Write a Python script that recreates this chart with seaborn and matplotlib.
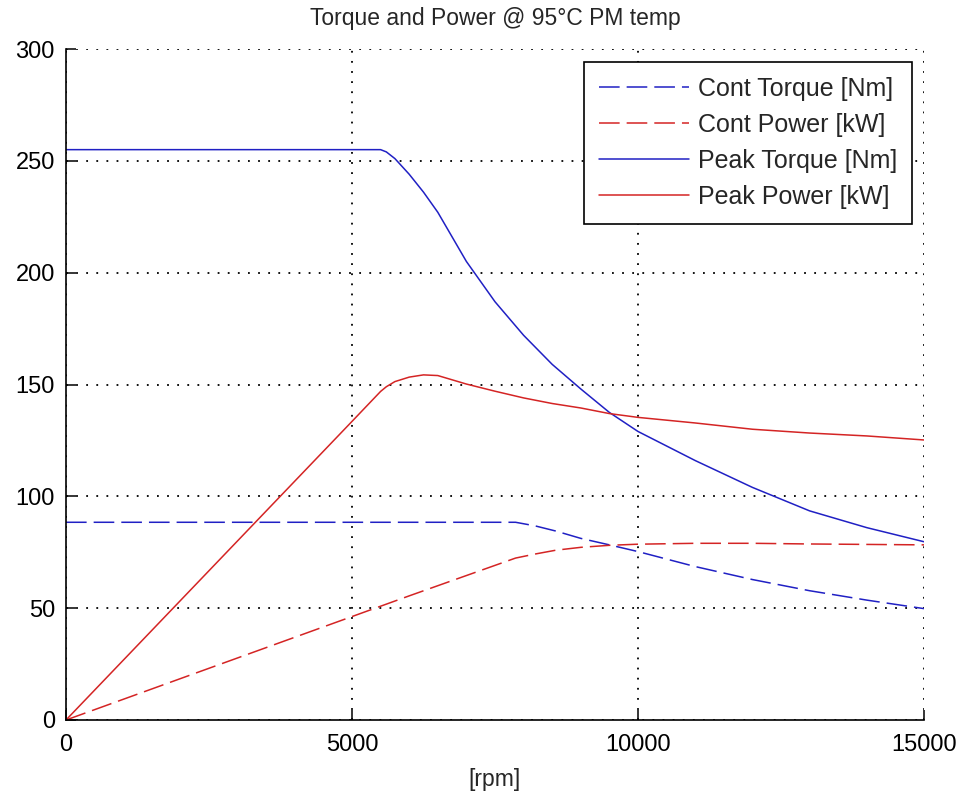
import matplotlib
matplotlib.use("Agg")
import matplotlib.pyplot as plt
import seaborn as sns
import pandas as pd

# Speed axis samples [rpm]
rpm_cont = [0, 2000, 4000, 6000, 7860, 8200, 8560, 9000, 9500, 10000,
            11000, 12000, 13000, 14000, 15000]
rpm_peak = [0, 2000, 4000, 5000, 5500, 5600, 5750, 6000, 6250, 6500, 7000,
            7500, 8000, 8500, 9000, 9500, 10000, 11000, 12000, 13000,
            14000, 15000]

# Continuous rating
cont_torque = [88.4, 88.4, 88.4, 88.4, 88.4, 86.8, 84.5, 81.2, 78.3, 75.3,
               68.6, 62.8, 57.8, 53.6, 49.8]
cont_power = [0.0, 18.5, 37.0, 55.5, 72.4, 74.2, 75.9, 77.2, 78.1, 78.6,
              79.0, 79.0, 78.7, 78.5, 78.3]

# Peak rating
peak_torque = [255, 255, 255, 255, 255, 254, 251, 244, 236, 227, 205,
               187, 172, 159, 148, 137.5, 129, 116, 104, 93.5, 86, 79.7]
peak_power = [0.0, 53.4, 106.8, 133.5, 146.9, 149.0, 151.3, 153.3, 154.3,
              154.0, 150.2, 147.0, 144.0, 141.5, 139.5, 137.0, 135.3,
              132.8, 130.0, 128.3, 127.0, 125.2]

series_labels = ["Cont Torque [Nm]", "Cont Power [kW]",
                 "Peak Torque [Nm]", "Peak Power [kW]"]
x_ticks = [0, 5000, 10000, 15000]
y_ticks = [0, 50, 100, 150, 200, 250, 300]

BLUE = "#2020c4"
RED = "#d42424"

sns.set_style("white")
plt.rcParams["font.family"] = ["Liberation Sans", "DejaVu Sans"]

fig = plt.figure(figsize=(9.62, 7.94), dpi=100)
ax = fig.add_axes([66 / 962, 1 - 720 / 794, (924 - 66) / 962, (720 - 49) / 794])

df_cont = pd.DataFrame({"rpm": rpm_cont, "torque": cont_torque, "power": cont_power})
df_peak = pd.DataFrame({"rpm": rpm_peak, "torque": peak_torque, "power": peak_power})

dash = (13.5, 4.6)
lw = 1.1
sns.lineplot(data=df_cont, x="rpm", y="torque", ax=ax, color=BLUE, lw=lw,
             label=series_labels[0], estimator=None, sort=False)
sns.lineplot(data=df_cont, x="rpm", y="power", ax=ax, color=RED, lw=lw,
             label=series_labels[1], estimator=None, sort=False)
sns.lineplot(data=df_peak, x="rpm", y="torque", ax=ax, color=BLUE, lw=lw,
             label=series_labels[2], estimator=None, sort=False)
sns.lineplot(data=df_peak, x="rpm", y="power", ax=ax, color=RED, lw=lw,
             label=series_labels[3], estimator=None, sort=False)
for ln in ax.lines[:2]:
    ln.set_dashes(dash)

ax.set_xlim(0, 15000)
ax.set_ylim(0, 300)
ax.set_xticks(x_ticks)
ax.set_yticks(y_ticks)
ax.set_xticklabels([str(v) for v in x_ticks])
ax.set_yticklabels([str(v) for v in y_ticks])

ax.grid(True, color="black", lw=1.3, linestyle=(0, (1.0, 4.6)))
ax.set_axisbelow(True)
for side in ("top", "right"):
    ax.spines[side].set_visible(False)
for side in ("left", "bottom"):
    ax.spines[side].set_color("black")
    ax.spines[side].set_linewidth(1.2)
    ax.spines[side].set_zorder(5)

ax.tick_params(direction="in", length=7, width=1.1, colors="black",
               labelsize=17, left=True, bottom=True)
ax.tick_params(axis="x", pad=10)
ax.tick_params(axis="y", pad=8)

ax.set_title("Torque and Power @ 95°C PM temp", fontsize=16.5, pad=17)
ax.set_xlabel("[rpm]", fontsize=16.5, labelpad=9)
ax.set_ylabel("")

leg = ax.legend(loc="upper right", bbox_to_anchor=(1 - 12 / 858, 1 - 13 / 671),
                borderaxespad=0, fontsize=18, frameon=True, fancybox=False,
                handlelength=3.6, handletextpad=0.35, labelspacing=0.48,
                borderpad=0.6)
leg.get_frame().set_edgecolor("black")
leg.get_frame().set_linewidth(1.2)
leg.get_frame().set_alpha(1)

fig.savefig("out.png", dpi=100, facecolor="white")
